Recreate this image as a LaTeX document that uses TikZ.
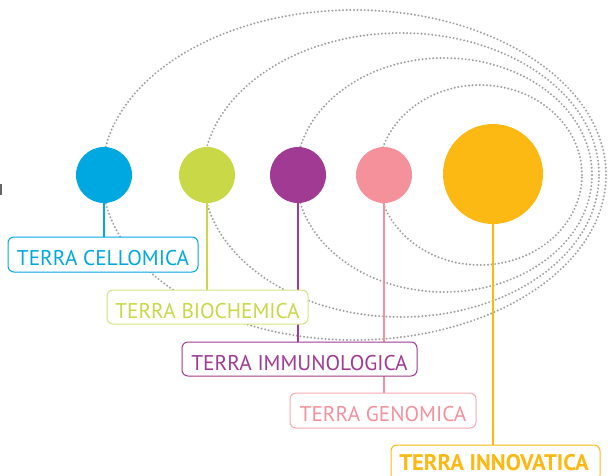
\documentclass[tikz,border=0pt]{standalone}
\usepackage{fontspec}
\setmainfont{PT Sans}
\usetikzlibrary{backgrounds}
\definecolor{cblue}{HTML}{00A8E1}
\definecolor{cgreen}{HTML}{C8D846}
\definecolor{cgreenl}{HTML}{D6E27C}
\definecolor{cpurple}{HTML}{A03A93}
\definecolor{cpink}{HTML}{F4919B}
\definecolor{cpinkl}{HTML}{F6A9B1}
\definecolor{cyellow}{HTML}{FCB913}
\definecolor{cdot}{HTML}{A0A0A0}
\begin{document}
\begin{tikzpicture}[x=1pt,y=-1pt,
  orbit/.style={draw=cdot, line width=2.2pt, line cap=round, dash pattern=on 0pt off 3.6pt},
  ball/.style={circle, inner sep=0pt, minimum size=#1},
  tag/.style={draw, rounded corners=6pt, line width=1pt, fill=white,
    font=\fontsize{21.3}{24}\selectfont, inner sep=0pt,
    text height=22pt, text depth=0pt},
  stem/.style={line width=1.3pt}
]
\useasboundingbox (0,0) rectangle (608,476);
\clip (0,0) rectangle (608,476);
% fragment at left edge
\draw[line width=1.5pt, gray!80!black] (0.8,184) -- (0.8,195);
% circles
\node[ball=56pt, fill=cblue] (c1) at (104,175) {};
\node[ball=56pt, fill=cgreen] (c2) at (207,175) {};
\node[ball=56pt, fill=cpurple] (c3) at (298,175) {};
\node[ball=56pt, fill=cpink] (c4) at (384,175) {};
\node[ball=100pt, fill=cyellow] (c5) at (493,174) {};
% labels
\node[tag, draw=cblue, text=cblue, minimum width=190pt, minimum height=35pt] (t1) at (103,254.5) {TERRA CELLOMICA};
\node[tag, draw=cgreenl, text=cgreen, minimum width=201pt, minimum height=34pt] (t2) at (207.5,307) {TERRA BIOCHEMICA};
\node[tag, draw=cpurple, text=cpurple, minimum width=235pt, minimum height=34pt] (t3) at (299.5,359) {TERRA IMMUNOLOGICA};
\node[tag, draw=cpinkl, text=cpink, minimum width=186pt, minimum height=35pt] (t4) at (383,410.5) {TERRA GENOMICA};
\node[tag, draw=cyellow, minimum width=209pt, minimum height=36pt] (t5) at (495.5,463) {};
\node[inner sep=0pt, text=cyellow, font=\fontsize{22.6}{25}\selectfont\bfseries, anchor=base] (t5txt) at (494,470) {TERRA INNOVATICA};
\begin{pgfonlayer}{background}
% orbits
\draw[orbit] (354,175) ellipse [x radius=252pt, y radius=165pt];
\draw[orbit] (401,175) ellipse [x radius=198pt, y radius=142pt];
\draw[orbit] (444,175) ellipse [x radius=148pt, y radius=117pt];
\draw[orbit] (480,175) ellipse [x radius=102pt, y radius=90pt];
% stems
\draw[stem, cblue] (c1.center) -- (c1.center |- t1.north);
\draw[stem, cgreen] (c2.center) -- (c2.center |- t2.north);
\draw[stem, cpurple] (c3.center) -- (c3.center |- t3.north);
\draw[stem, cpink] (c4.center) -- (c4.center |- t4.north);
\draw[stem, cyellow] (c5.center) -- (c5.center |- t5.north);
\end{pgfonlayer}
\end{tikzpicture}
\end{document}
